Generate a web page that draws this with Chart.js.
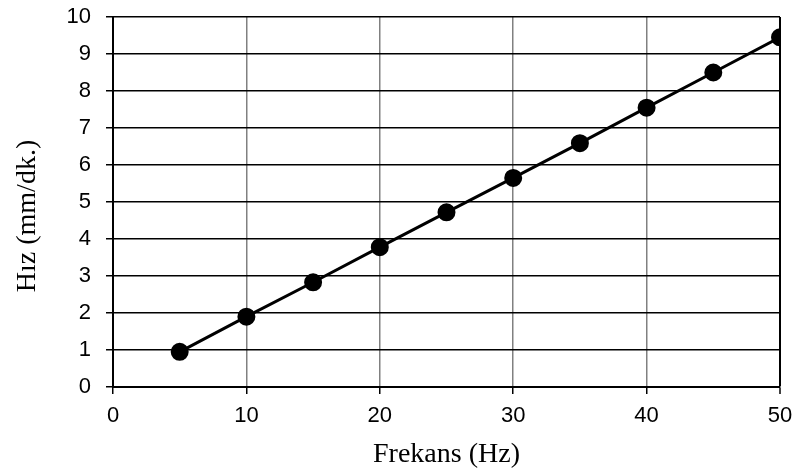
<!DOCTYPE html>
<html>
<head>
<meta charset="utf-8">
<script src="https://cdn.jsdelivr.net/npm/chart.js@4/dist/chart.umd.min.js"></script>
<style>
  html, body { margin: 0; padding: 0; background: #fff; }
  #wrap { width: 794px; height: 470px; }
</style>
</head>
<body>
<div id="wrap"><canvas id="c" width="794" height="470"></canvas></div>
<script>
// Frequency (Hz) against speed (mm/dk.)
const frekans = [5, 10, 15, 20, 25, 30, 35, 40, 45, 50];
const hiz = [0.95, 1.90, 2.83, 3.78, 4.72, 5.65, 6.59, 7.55, 8.50, 9.45];
const xTicks = [0, 10, 20, 30, 40, 50];
const yTicks = [0, 1, 2, 3, 4, 5, 6, 7, 8, 9, 10];
const yTitle = 'Hız (mm/dk.)';

const points = frekans.map((f, i) => ({ x: f, y: hiz[i] }));

const tickFont = { family: '"Liberation Sans", Arial, sans-serif', size: 22 };
const titleFont = { family: '"Liberation Serif", "Times New Roman", serif', size: 28, lineHeight: 1.1 };

// Vertical axis title, placed a little below the middle of the plot
const yTitlePlugin = {
  id: 'yTitle',
  afterDraw(chart) {
    const ctx = chart.ctx;
    const area = chart.chartArea;
    ctx.save();
    ctx.translate(27.4, (area.top + area.bottom) / 2 + 14);
    ctx.rotate(-Math.PI / 2);
    ctx.font = `${titleFont.size}px ${titleFont.family}`;
    ctx.fillStyle = '#000';
    ctx.textAlign = 'center';
    ctx.textBaseline = 'middle';
    ctx.fillText(yTitle, 0, 0);
    ctx.restore();
  }
};

new Chart(document.getElementById('c'), {
  type: 'scatter',
  data: {
    datasets: [{
      data: points,
      showLine: true,
      borderColor: '#000',
      backgroundColor: '#000',
      borderWidth: 3,
      pointRadius: 7.5,
      pointHoverRadius: 7.5,
      pointBackgroundColor: '#000',
      pointBorderColor: '#000',
      tension: 0
    }]
  },
  plugins: [yTitlePlugin],
  options: {
    responsive: false,
    animation: false,
    devicePixelRatio: 1,
    layout: { padding: { top: 0, right: 0, bottom: 0, left: 12 } },
    plugins: { legend: { display: false }, tooltip: { enabled: false } },
    scales: {
      x: {
        type: 'linear',
        min: 0, max: 50,
        afterBuildTicks: s => { s.ticks = xTicks.map(v => ({ value: v })); },
        afterFit: s => { s.height = 83; s.paddingLeft = 0; s.paddingRight = 14; },
        ticks: { color: '#000', font: tickFont, padding: 9, maxRotation: 0 },
        grid: {
          color: c => (c.tick && c.tick.value === 50) ? '#000' : '#808080',
          lineWidth: c => (c.tick && c.tick.value === 50) ? 2 : 1.5,
          tickColor: '#000',
          tickLength: 7,
          tickWidth: 1.5
        },
        border: { color: '#000', width: 2 },
        title: {
          display: true,
          text: 'Frekans (Hz)',
          color: '#000',
          font: titleFont,
          padding: { top: 0, bottom: 0 }
        }
      },
      y: {
        type: 'linear',
        min: 0, max: 10,
        afterBuildTicks: s => { s.ticks = yTicks.map(v => ({ value: v })); },
        afterFit: s => { s.width = 101; s.paddingTop = 17; s.paddingBottom = 0; },
        ticks: { color: '#000', font: tickFont, padding: 15 },
        grid: { color: '#000', lineWidth: 1.5, tickColor: '#000', tickLength: 7 },
        border: { color: '#000', width: 2 },
        title: { display: false }
      }
    }
  }
});
</script>
</body>
</html>
